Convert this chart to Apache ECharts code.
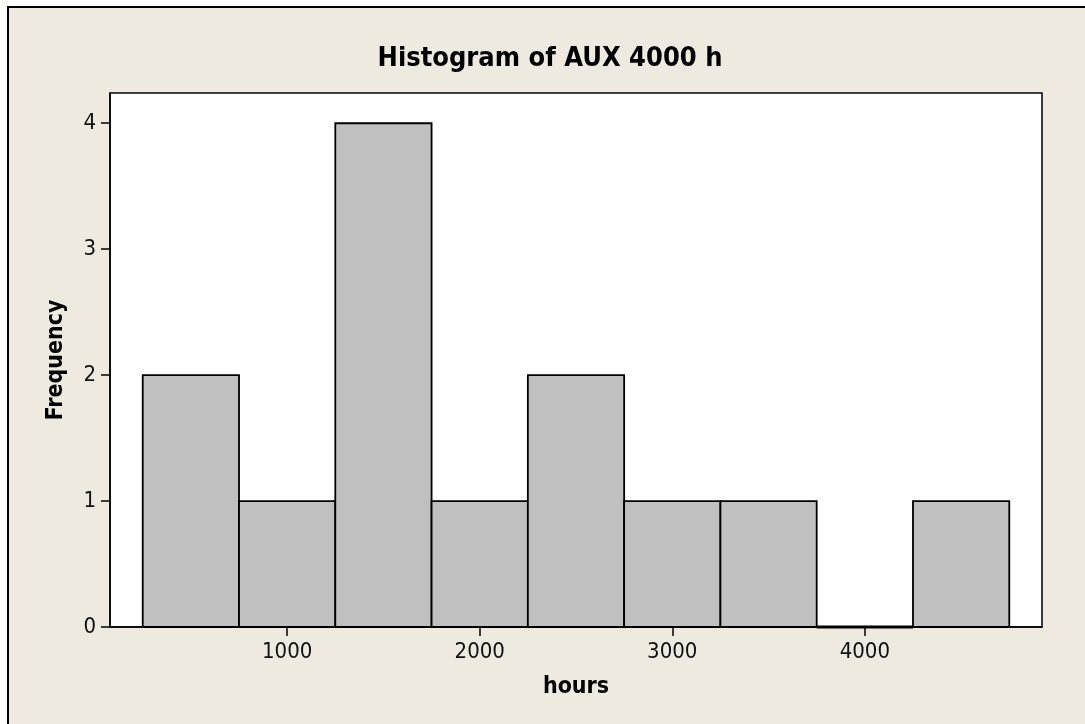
<!DOCTYPE html>
<html>
<head>
<meta charset="utf-8">
<script src="https://cdn.jsdelivr.net/npm/echarts@6/dist/echarts.min.js"></script>
<style>
  html, body { margin: 0; padding: 0; background: #ffffff; overflow: hidden; }
  #frame { position: absolute; left: 7px; top: 6px; width: 1200px; height: 900px;
           border: 2px solid #000; background: #EEEAE0; }
  #chart { position: absolute; left: 0; top: 0; width: 1085px; height: 724px; }
</style>
</head>
<body>
<div id="frame"></div>
<div id="chart"></div>
<script>
const binStarts = [250, 750, 1250, 1750, 2250, 2750, 3250, 3750, 4250];
const binEnds   = [750, 1250, 1750, 2250, 2750, 3250, 3750, 4250, 4750];
const frequencies = [2, 1, 4, 1, 2, 1, 1, 0, 1];
const xTicks = [1000, 2000, 3000, 4000];
const yTicks = [0, 1, 2, 3, 4];

const data = binStarts.map((s, i) => [s, binEnds[i], frequencies[i]]);
const FONT = '"DejaVu Sans Condensed", "DejaVu Sans", sans-serif';

const chart = echarts.init(document.getElementById('chart'), null, { renderer: 'canvas' });
chart.setOption({
  backgroundColor: 'transparent',
  animation: false,
  title: {
    text: 'Histogram of AUX 4000 h',
    left: 545, top: 40, textAlign: 'center',
    textStyle: { fontFamily: FONT, fontWeight: 'bold', fontSize: 27, color: '#000' }
  },
  grid: {
    left: 110, right: 43, top: 93, bottom: 97,
    show: true, backgroundColor: '#ffffff', borderColor: '#000', borderWidth: 1.5
  },
  xAxis: {
    type: 'value', min: 80, max: 4920,
    name: 'hours', nameLocation: 'middle', nameGap: 49,
    nameTextStyle: { fontFamily: FONT, fontWeight: 'bold', fontSize: 23, color: '#000' },
    axisLine: { show: true, lineStyle: { color: '#000', width: 1.5 } },
    axisTick: { show: true, customValues: xTicks, length: 9, lineStyle: { color: '#000', width: 1.5 } },
    axisLabel: { customValues: xTicks, margin: 14, fontFamily: FONT, fontSize: 22, color: '#111',
                 formatter: function (v) { return String(v); } },
    splitLine: { show: false }
  },
  yAxis: {
    type: 'value', min: 0, max: 4.24,
    name: 'Frequency', nameLocation: 'middle', nameGap: 42,
    nameTextStyle: { fontFamily: FONT, fontWeight: 'bold', fontSize: 23, color: '#000' },
    axisLine: { show: true, lineStyle: { color: '#000', width: 1.5 } },
    axisTick: { show: true, customValues: yTicks, length: 9, lineStyle: { color: '#000', width: 1.5 } },
    axisLabel: { customValues: yTicks, margin: 14, fontFamily: FONT, fontSize: 22, color: '#111',
                 formatter: function (v) { return String(v); } },
    splitLine: { show: false }
  },
  series: [{
    type: 'custom',
    clip: false,
    z: 5,
    data: data,
    encode: { x: [0, 1], y: 2 },
    renderItem: function (params, api) {
      const p0 = api.coord([api.value(0), api.value(2)]);
      const p1 = api.coord([api.value(1), 0]);
      const h = p1[1] - p0[1];
      if (h <= 0.5) {
        return {
          type: 'line',
          shape: { x1: p0[0], y1: p1[1], x2: p1[0], y2: p1[1] },
          style: { stroke: '#000', lineWidth: 3 }
        };
      }
      return {
        type: 'rect',
        shape: { x: p0[0], y: p0[1], width: p1[0] - p0[0], height: h },
        style: { fill: '#C0C0C0', stroke: '#000', lineWidth: 1.8 }
      };
    }
  }]
});
</script>
</body>
</html>
